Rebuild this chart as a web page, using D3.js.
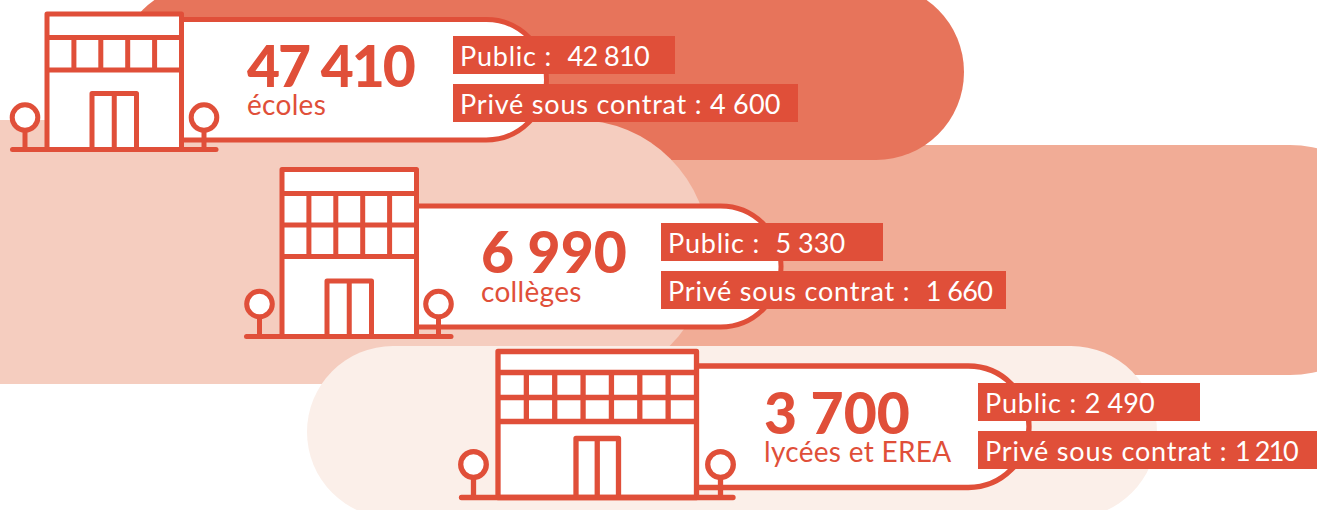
<!DOCTYPE html>
<html>
<head>
<meta charset="utf-8">
<script src="https://cdn.jsdelivr.net/npm/d3@7/dist/d3.min.js"></script>
<style>
	html, body { margin: 0; padding: 0; background: #fff; }
	svg { display: block; }
	text { font-family: Lato, "Noto Sans", sans-serif; white-space: pre; }
</style>
</head>
<body>
<div id="chart"></div>
<script>

// Values
var categories = ["écoles", "collèges", "lycées et EREA"];
var totals = [47410, 6990, 3700];
var publicValues = [42810, 5330, 2490];
var privateValues = [4600, 1660, 1210];
var publicPrefix = ["Public :  ", "Public :  ", "Public : "];
var privatePrefix = ["Privé sous contrat : ", "Privé sous contrat :  ", "Privé sous contrat : "];

var width = 1317, height = 510;
var red = "#e04f39";
var fr = d3.formatLocale({ decimal: ",", thousands: " ", grouping: [3], currency: ["", " €"] });
var num = fr.format(",d");

// Background bands, back to front
var bands = [
	{ x: 500, y: 145, w: 905, h: 230, r: 115, fill: "#f1ac96" },
	{ x: 117, y: -16, w: 847, h: 176, r: 88, fill: "#e7745b" },
	{ x: -200, y: 120, w: 909, h: 264, r: 132, fill: "#f5cdbf" },
	{ x: 307, y: 346, w: 850, h: 172, r: 86, fill: "#fbefe9" }
];

// Pictogram and panel layout of each row
var rows = [
	{
		left: 47, right: 181.5, top: 14, floors: [37.5, 70], cols: 5, sw: 5,
		door: [92, 136.5, 93.5], ground: 149.5, groundX: [12.5, 216], treeX: [25, 204], treeY: 117.5,
		box: [19.5, 140, 546.5], textX: 247, totalY: 86.5, totalSpacing: -2, nameY: 115,
		labelX: 453, labelY: [36, 84], labelW: [222, 345], numSpacing: [-0.6, 0.2]
	},
	{
		left: 282, right: 416.5, top: 169.5, floors: [193.5, 225, 256.5], cols: 5, sw: 5,
		door: [327, 371.5, 281], ground: 336.5, groundX: [246.5, 451], treeX: [259.5, 438.5], treeY: 304,
		box: [206, 327, 781], textX: 481, totalY: 273, totalSpacing: 0, nameY: 302,
		labelX: 661, labelY: [223, 271], labelW: [222, 345], numSpacing: [0, -0.6]
	},
	{
		left: 498, right: 696.5, top: 351.5, floors: [372.5, 397.5, 421.5], cols: 7, sw: 5.3,
		door: [576, 618.5, 438.5], ground: 497.5, groundX: [461.5, 733], treeX: [473.5, 720.5], treeY: 464.5,
		box: [366, 487.5, 1029], textX: 764, totalY: 434, totalSpacing: 0, nameY: 462,
		labelX: 978, labelY: [383, 431], labelW: [222, 339], numSpacing: [0.1, -1.5]
	}
];

var svg = d3.select("#chart").append("svg")
	.attr("width", width)
	.attr("height", height)
	.attr("viewBox", "0 0 " + width + " " + height);

svg.selectAll("rect.band")
	.data(bands)
	.join("rect")
	.attr("class", "band")
	.attr("x", function(d) { return d.x; })
	.attr("y", function(d) { return d.y; })
	.attr("width", function(d) { return d.w; })
	.attr("height", function(d) { return d.h; })
	.attr("rx", function(d) { return d.r; })
	.attr("ry", function(d) { return d.r; })
	.attr("fill", function(d) { return d.fill; });

rows.forEach(function(row, i) {

	var g = svg.append("g")
		.attr("fill", "none")
		.attr("stroke", red)
		.attr("stroke-width", row.sw);

	// Rounded panel behind the numbers
	var r = (row.box[1] - row.box[0]) / 2;
	var p = d3.path();
	p.moveTo(row.right, row.box[0]);
	p.lineTo(row.box[2] - r, row.box[0]);
	p.arc(row.box[2] - r, row.box[0] + r, r, -Math.PI / 2, Math.PI / 2);
	p.lineTo(row.right, row.box[1]);
	g.append("path").attr("d", p.toString()).attr("fill", "#fff");

	// Building
	g.append("rect")
		.attr("x", row.left)
		.attr("y", row.top)
		.attr("width", row.right - row.left)
		.attr("height", row.ground - row.top)
		.attr("fill", "#fff")
		.attr("stroke-linejoin", "round");

	var lastFloor = row.floors[row.floors.length - 1];
	g.selectAll("line.floor")
		.data(row.floors)
		.join("line")
		.attr("x1", row.left)
		.attr("x2", row.right)
		.attr("y1", function(d) { return d; })
		.attr("y2", function(d) { return d; });

	var colX = d3.scaleLinear().domain([0, row.cols]).range([row.left, row.right]);
	g.selectAll("line.mullion")
		.data(d3.range(1, row.cols))
		.join("line")
		.attr("x1", function(d) { return colX(d); })
		.attr("x2", function(d) { return colX(d); })
		.attr("y1", row.floors[0])
		.attr("y2", lastFloor);

	// Door
	g.append("path")
		.attr("stroke-linejoin", "round")
		.attr("d", "M" + row.door[0] + "," + row.ground + "V" + row.door[2] + "H" + row.door[1] + "V" + row.ground
			+ "M" + (row.door[0] + row.door[1]) / 2 + "," + row.door[2] + "V" + row.ground);

	// Trees
	row.treeX.forEach(function(x) {
		g.append("line").attr("x1", x).attr("x2", x).attr("y1", row.treeY).attr("y2", row.ground);
		g.append("circle").attr("cx", x).attr("cy", row.treeY).attr("r", 12.8).attr("fill", "#fff");
	});

	g.append("line")
		.attr("x1", row.groundX[0])
		.attr("x2", row.groundX[1])
		.attr("y1", row.ground)
		.attr("y2", row.ground)
		.attr("stroke-linecap", "round");

	// Numbers
	svg.append("text")
		.attr("x", row.textX)
		.attr("y", row.totalY)
		.attr("fill", red)
		.attr("font-size", 57)
		.attr("font-weight", 900)
		.attr("letter-spacing", row.totalSpacing)
		.text(num(totals[i]));

	svg.append("text")
		.attr("x", row.textX)
		.attr("y", row.nameY)
		.attr("fill", red)
		.attr("font-size", 28)
		.attr("letter-spacing", 0.3)
		.text(categories[i]);

	// Public and private labels
	var labels = [[publicPrefix[i], num(publicValues[i])], [privatePrefix[i], num(privateValues[i])]];
	labels.forEach(function(label, k) {
		svg.append("rect")
			.attr("x", row.labelX)
			.attr("y", row.labelY[k])
			.attr("width", row.labelW[k])
			.attr("height", 38)
			.attr("fill", red);
		var t = svg.append("text")
			.attr("x", row.labelX + 7)
			.attr("y", row.labelY[k] + 30)
			.attr("fill", "#fff")
			.attr("font-size", 27);
		t.append("tspan").attr("letter-spacing", 0.8).text(label[0]);
		t.append("tspan").attr("letter-spacing", row.numSpacing[k]).text(label[1]);
	});

});

</script>
</body>
</html>
